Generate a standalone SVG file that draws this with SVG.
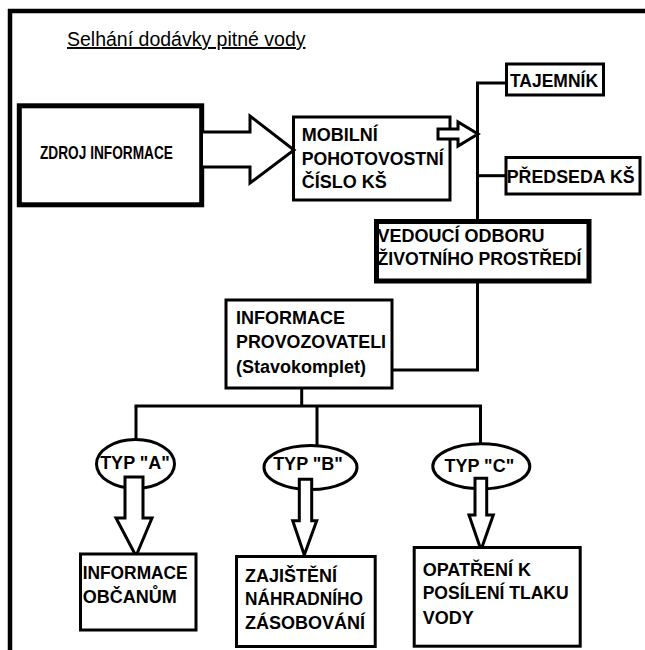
<svg xmlns="http://www.w3.org/2000/svg" width="645" height="650" viewBox="0 0 645 650">
<style>
  .bx{fill:#fff;stroke:#000;stroke-width:3}
  .thick{fill:#fff;stroke:#000;stroke-width:5}
  .ar{fill:#fff;stroke:#000;stroke-width:3;stroke-linejoin:miter}
  .ln{fill:none;stroke:#000;stroke-width:3}
  .t{font-family:"Liberation Sans",Arial,sans-serif;font-weight:bold;font-size:18px;fill:#000}
  .tc{text-anchor:middle}
</style>
<rect width="645" height="650" fill="#fff"/>
<g id="frame">
  <path d="M8,11 H645 M10,9 V650" fill="none" stroke="#000" stroke-width="4.5"/>
</g>
<g id="title">
  <text x="67" y="46" font-family="Liberation Sans, Arial, sans-serif" font-size="19.5" text-decoration="underline" fill="#000">Selhání dodávky pitné vody</text>
</g>
<g id="connectors">
  <path class="ln" d="M477.5,83 V221"/>
  <path class="ln" d="M476,83 H506"/>
  <path class="ln" d="M477.5,175.7 H506"/>
  <path class="ln" d="M477.5,282 V370 H392"/>
  <path class="ln" d="M301.7,388 V406"/>
  <path class="ln" d="M134.5,406 H482"/>
  <path class="ln" d="M136,406 V440"/>
  <path class="ln" d="M317,406 V445.5"/>
  <path class="ln" d="M480.5,406 V444"/>
</g>
<g id="zdroj">
  <rect class="thick" x="19.3" y="105.8" width="182.4" height="99"/>
  <text class="t" x="40" y="159" font-size="17" textLength="133" lengthAdjust="spacingAndGlyphs">ZDROJ INFORMACE</text>
</g>
<g id="mobilni">
  <rect class="bx" x="293.5" y="117" width="156.5" height="83"/>
  <text class="t" x="301.7" y="140.7">MOBILNÍ</text>
  <text class="t" x="301.7" y="165" textLength="142" lengthAdjust="spacingAndGlyphs">POHOTOVOSTNÍ</text>
  <text class="t" x="301.7" y="188.3">ČÍSLO KŠ</text>
</g>
<g id="arrow-big">
  <path class="ar" d="M203,132 H250 V116 L294,150 L250,183 V167 H203"/>
</g>
<g id="arrow-small">
  <path class="ar" d="M438,129 H458 V122 L478,134 L458,146 V139 H438 Z"/>
</g>
<g id="tajemnik">
  <rect class="bx" x="506.5" y="64" width="97" height="31"/>
  <text class="t" x="510" y="87.3" textLength="88" lengthAdjust="spacingAndGlyphs">TAJEMNÍK</text>
</g>
<g id="predseda">
  <rect class="bx" x="506" y="157.5" width="134" height="36.5"/>
  <text class="t" x="506.7" y="182.7" textLength="128" lengthAdjust="spacingAndGlyphs">PŘEDSEDA KŠ</text>
</g>
<g id="vedouci">
  <rect class="thick" x="376.5" y="221.5" width="212.5" height="59.5"/>
  <text class="t" x="377.5" y="242.3">VEDOUCÍ ODBORU</text>
  <text class="t" x="377.5" y="265" textLength="204" lengthAdjust="spacingAndGlyphs">ŽIVOTNÍHO PROSTŘEDÍ</text>
</g>
<g id="provozovatel">
  <rect class="bx" x="226" y="300" width="166" height="88"/>
  <text class="t" x="236" y="324">INFORMACE</text>
  <text class="t" x="236" y="348.3" textLength="150" lengthAdjust="spacingAndGlyphs">PROVOZOVATELI</text>
  <text class="t" x="236" y="373">(Stavokomplet)</text>
</g>
<g id="typ-a">
  <ellipse class="bx" cx="135.5" cy="464" rx="39" ry="24.5"/>
  <text class="t tc" x="135" y="469.3">TYP "A"</text>
</g>
<g id="typ-b">
  <ellipse class="bx" cx="310.5" cy="467.5" rx="46.5" ry="22"/>
  <text class="t tc" x="308" y="470">TYP "B"</text>
</g>
<g id="typ-c">
  <ellipse class="bx" cx="481.3" cy="466.3" rx="48.5" ry="22.5"/>
  <text class="t tc" x="479.3" y="471.7">TYP "C"</text>
</g>
<g id="arrows-down">
  <path class="ar" d="M125,477 H143 V518 H152 L136,556 L116,518 H125 Z"/>
  <path class="ar" d="M299.3,479.3 H311.7 V520.7 H316.7 L304.3,555 L292.7,520.7 H299.3 Z"/>
  <path class="ar" d="M475,478.3 H486.7 V515 H493.3 L481,550 L469,515 H475 Z"/>
</g>
<g id="obcane">
  <rect class="bx" x="80.5" y="554" width="115.5" height="76"/>
  <text class="t" x="82.7" y="579.3" textLength="105" lengthAdjust="spacingAndGlyphs">INFORMACE</text>
  <text class="t" x="82.7" y="602.7">OBČANŮM</text>
</g>
<g id="zasobovani">
  <rect class="bx" x="236.5" y="556.5" width="138.7" height="90"/>
  <text class="t" x="245" y="581.7">ZAJIŠTĚNÍ</text>
  <text class="t" x="245" y="605" textLength="118" lengthAdjust="spacingAndGlyphs">NÁHRADNÍHO</text>
  <text class="t" x="245" y="629.3">ZÁSOBOVÁNÍ</text>
</g>
<g id="tlak">
  <rect class="bx" x="414.2" y="547.5" width="166" height="98.7"/>
  <text class="t" x="422.7" y="576">OPATŘENÍ K</text>
  <text class="t" x="422.7" y="599.3" textLength="146" lengthAdjust="spacingAndGlyphs">POSÍLENÍ TLAKU</text>
  <text class="t" x="422.7" y="624">VODY</text>
</g>
</svg>
